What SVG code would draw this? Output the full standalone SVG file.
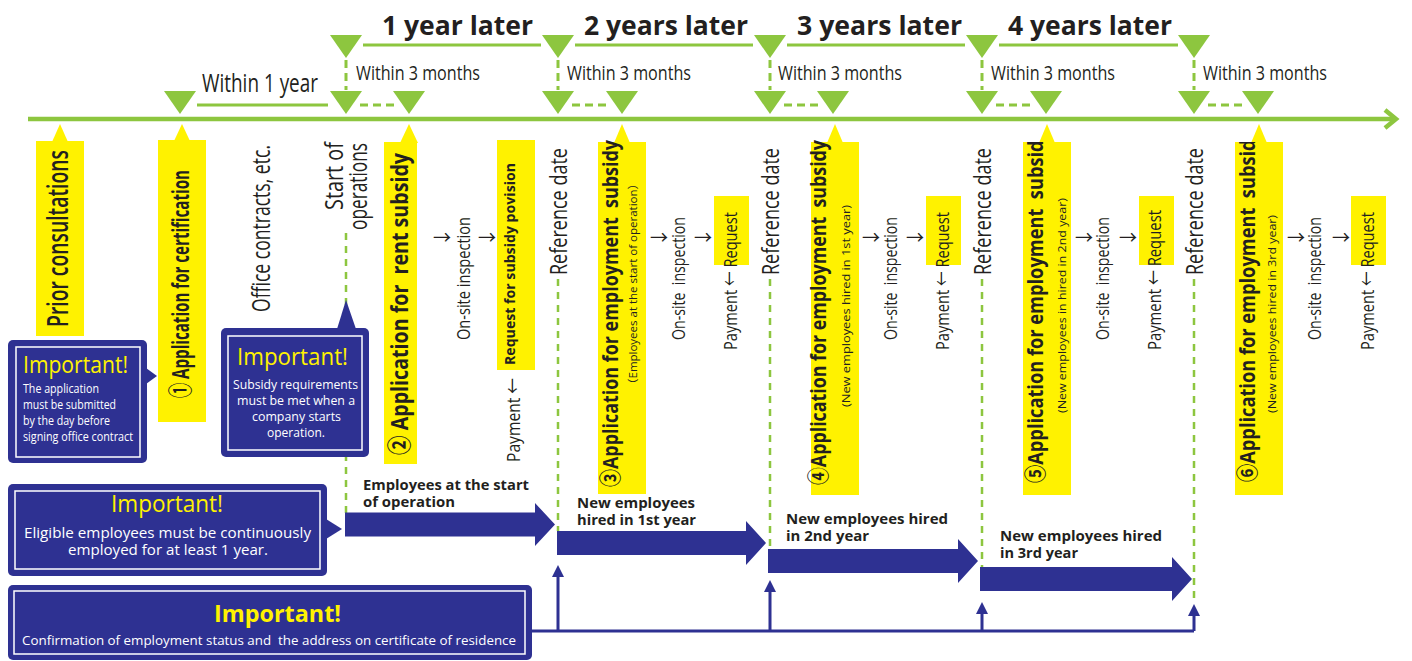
<svg xmlns="http://www.w3.org/2000/svg" width="1412" height="661" viewBox="0 0 1412 661">
<defs>
<style>
text{font-family:"Open Sans","Noto Sans","Noto Sans CJK JP","DejaVu Sans",sans-serif;fill:#231f20}
.g{fill:#8dc63f}
.gl{stroke:#8dc63f;stroke-width:3;fill:none}
.gd{stroke:#8dc63f;stroke-width:3;stroke-dasharray:8 5;fill:none}
.gv{stroke:#8dc63f;stroke-width:2.5;stroke-dasharray:7 6;fill:none}
.y{fill:#fff200}
.b{fill:#2e3192}
.bl{stroke:#2e3192;stroke-width:3;fill:none}
.inner{fill:none;stroke:#fff;stroke-width:1.5}
.hd{font-weight:700;font-size:27px}
.lt{font-size:19px}
.bd{font-weight:700}
.w{fill:#fff}
.imp{fill:#fff200;font-size:24px}
.arr{font-size:18px;text-anchor:middle}
.lab{font-weight:700;font-size:14.5px}
</style>
<clipPath id="c5"><rect x="1023" y="142" width="48" height="353"/></clipPath>
<clipPath id="c6"><rect x="1235" y="142" width="48" height="353"/></clipPath>
</defs>

<g id="timeline">
<line x1="28" y1="119" x2="1394" y2="119" stroke="#8dc63f" stroke-width="4.5"/>
<polyline points="1385,110 1396,119 1385,128" fill="none" stroke="#8dc63f" stroke-width="4.5"/>
<g class="g">
<polygon points="164,91 196,91 180,114"/>
<polygon points="330,91 362,91 346,114"/>
<polygon points="393,91 425,91 409,114"/>
<polygon points="542,91 574,91 558,114"/>
<polygon points="606,91 638,91 622,114"/>
<polygon points="754,91 786,91 770,114"/>
<polygon points="817,91 849,91 833,114"/>
<polygon points="966,91 998,91 982,114"/>
<polygon points="1030,91 1062,91 1046,114"/>
<polygon points="1178,91 1210,91 1194,114"/>
<polygon points="1242,91 1274,91 1258,114"/>
<polygon points="330,35 362,35 346,58"/>
<polygon points="542,35 574,35 558,58"/>
<polygon points="754,35 786,35 770,58"/>
<polygon points="966,35 998,35 982,58"/>
<polygon points="1178,35 1210,35 1194,58"/>
</g>
<path class="gl" d="M363 45H541M575 45H753M787 45H965M999 45H1178M197 105H328"/>
<path class="gd" d="M360 105H396M572 105H608M784 105H820M996 105H1032M1208 105H1244"/>
<path class="gd" d="M346 60V90M558 60V90M770 60V90M982 60V90M1194 60V90" stroke-dasharray="6 4"/>
</g>

<g id="period-labels">
<text class="hd" x="382" y="35" textLength="151" lengthAdjust="spacingAndGlyphs">1 year later</text>
<text class="hd" x="584" y="35" textLength="164" lengthAdjust="spacingAndGlyphs">2 years later</text>
<text class="hd" x="797" y="35" textLength="165" lengthAdjust="spacingAndGlyphs">3 years later</text>
<text class="hd" x="1008" y="35" textLength="164" lengthAdjust="spacingAndGlyphs">4 years later</text>
<text x="202" y="92" font-size="26" textLength="116" lengthAdjust="spacingAndGlyphs">Within 1 year</text>
<text x="356" y="80" font-size="20" textLength="124" lengthAdjust="spacingAndGlyphs">Within 3 months</text>
<text x="567" y="80" font-size="20" textLength="124" lengthAdjust="spacingAndGlyphs">Within 3 months</text>
<text x="778" y="80" font-size="20" textLength="124" lengthAdjust="spacingAndGlyphs">Within 3 months</text>
<text x="991" y="80" font-size="20" textLength="124" lengthAdjust="spacingAndGlyphs">Within 3 months</text>
<text x="1203" y="80" font-size="20" textLength="124" lengthAdjust="spacingAndGlyphs">Within 3 months</text>
</g>

<g id="connectors">
<path class="gv" d="M346 233V513M558 279V531M770 279V549M982 279V567M1194 279V604"/>
<path class="bl" d="M532 631H1194M558 631V574M770 631V589M982 631V611M1194 631V613"/>
<g class="b">
<polygon points="552,577 558,565 564,577"/>
<polygon points="764,592 770,580 776,592"/>
<polygon points="976,614 982,602 988,614"/>
<polygon points="1188,616 1194,604 1200,616"/>
<polygon points="345,512.5 535,512.5 535,503 555,524.5 535,546 535,536.5 345,536.5"/>
<polygon points="557,531 746,531 746,521 766,543 746,565 746,555 557,555"/>
<polygon points="768,549 958,549 958,539 978,561 958,583 958,573 768,573"/>
<polygon points="980,567 1172,567 1172,557 1192,579 1172,601 1172,591 980,591"/>
</g>
</g>

<g id="prior">
<rect class="y" x="36" y="141" width="48" height="195"/>
<polygon class="y" points="52,142 60,124 68,142"/>
<text transform="translate(68,327) rotate(-90)" font-size="28" font-weight="600" textLength="177" lengthAdjust="spacingAndGlyphs">Prior consultations</text>
</g>

<g id="cert">
<rect class="y" x="158" y="140" width="48" height="282"/>
<polygon class="y" points="174,141 182,124 190,141"/>
<text class="bd" transform="translate(189,398) rotate(-90)" font-size="24" textLength="228" lengthAdjust="spacingAndGlyphs">① Application for certification</text>
</g>

<g id="office">
<text transform="translate(270,312) rotate(-90)" font-size="25" textLength="167" lengthAdjust="spacingAndGlyphs">Office contracts, etc.</text>
</g>

<g id="start">
<text transform="translate(343,210) rotate(-90)" font-size="25" textLength="68" lengthAdjust="spacingAndGlyphs">Start of</text>
<text transform="translate(367,230) rotate(-90)" font-size="25" textLength="87" lengthAdjust="spacingAndGlyphs">operations</text>
</g>

<g id="note-application">
<rect class="b" x="8" y="340" width="139" height="123" rx="5"/>
<rect class="inner" x="16" y="347" width="124" height="110"/>
<polygon class="b" points="146,368 157,376 146,384"/>
<text class="imp" x="23" y="373" font-size="23" textLength="105" lengthAdjust="spacingAndGlyphs">Important!</text>
<text class="w" x="23" y="393" font-size="12.5" textLength="76" lengthAdjust="spacingAndGlyphs">The application</text>
<text class="w" x="23" y="409" font-size="12.5" textLength="93" lengthAdjust="spacingAndGlyphs">must be submitted</text>
<text class="w" x="23" y="425" font-size="12.5" textLength="87" lengthAdjust="spacingAndGlyphs">by the day before</text>
<text class="w" x="23" y="441" font-size="12.5" textLength="110" lengthAdjust="spacingAndGlyphs">signing office contract</text>
</g>

<g id="note-requirements">
<rect class="b" x="221" y="328" width="148" height="129" rx="5"/>
<rect class="inner" x="228" y="336" width="134" height="114"/>
<polygon class="b" points="337,329 346,300 356,329"/>
<text class="imp" x="237" y="365" textLength="111" lengthAdjust="spacingAndGlyphs">Important!</text>
<text class="w" x="233" y="389" font-size="13" textLength="125" lengthAdjust="spacingAndGlyphs">Subsidy requirements</text>
<text class="w" x="237" y="405" font-size="13" textLength="118" lengthAdjust="spacingAndGlyphs">must be met when a</text>
<text class="w" x="252" y="421" font-size="13" textLength="89" lengthAdjust="spacingAndGlyphs">company starts</text>
<text class="w" x="267" y="437" font-size="13" textLength="58" lengthAdjust="spacingAndGlyphs">operation.</text>
</g>

<g id="rent">
<rect class="y" x="384" y="142" width="33" height="322"/>
<polygon class="y" points="400,143 409,124 418,143"/>
<text class="bd" transform="translate(408,455) rotate(-90)" font-size="24" textLength="302" lengthAdjust="spacingAndGlyphs">② Application for&#160; rent subsidy</text>
<text class="arr" x="442" y="244">→</text>
<text class="lt" transform="translate(470,340) rotate(-90)" textLength="123" lengthAdjust="spacingAndGlyphs">On-site inspection</text>
<text class="arr" x="487" y="244">→</text>
<rect class="y" x="497" y="140" width="38" height="230"/>
<text class="bd" transform="translate(515,365) rotate(-90)" font-size="15" textLength="202" lengthAdjust="spacingAndGlyphs">Request for subsidy povision</text>
<text class="lt" transform="translate(520,462) rotate(-90)" textLength="84" lengthAdjust="spacingAndGlyphs">Payment ←</text>
</g>

<g id="refdates">
<text transform="translate(567,275) rotate(-90)" font-size="23" textLength="127" lengthAdjust="spacingAndGlyphs">Reference date</text>
<text transform="translate(779,275) rotate(-90)" font-size="23" textLength="127" lengthAdjust="spacingAndGlyphs">Reference date</text>
<text transform="translate(991,275) rotate(-90)" font-size="23" textLength="127" lengthAdjust="spacingAndGlyphs">Reference date</text>
<text transform="translate(1203,275) rotate(-90)" font-size="23" textLength="127" lengthAdjust="spacingAndGlyphs">Reference date</text>
</g>

<g id="emp3">
<rect class="y" x="598" y="142" width="48" height="352"/>
<polygon class="y" points="614,143 622,124 630,143"/>
<text class="bd" transform="translate(618,487) rotate(-90)" font-size="22" textLength="347" lengthAdjust="spacingAndGlyphs">③Application for employment&#160; subsidy</text>
<text transform="translate(637,390) rotate(-90)" font-size="11" textLength="212" lengthAdjust="spacingAndGlyphs">（Employees at the start of operation）</text>
<text class="arr" x="659" y="244">→</text>
<text class="lt" transform="translate(685,340) rotate(-90)" textLength="123" lengthAdjust="spacingAndGlyphs">On-site&#160; inspection</text>
<text class="arr" x="703" y="244">→</text>
<rect class="y" x="714" y="196" width="35" height="69"/>
<text class="lt" transform="translate(737,350) rotate(-90)" textLength="138" lengthAdjust="spacingAndGlyphs">Payment ← Request</text>
</g>

<g id="emp4">
<rect class="y" x="811" y="142" width="48" height="353"/>
<polygon class="y" points="827,143 835,124 843,143"/>
<text class="bd" transform="translate(826,485) rotate(-90)" font-size="22" textLength="345" lengthAdjust="spacingAndGlyphs">④Application for employment&#160; subsidy</text>
<text transform="translate(850,407) rotate(-90)" font-size="11" textLength="202" lengthAdjust="spacingAndGlyphs">(New employees hired in 1st year)</text>
<text class="arr" x="871" y="244">→</text>
<text class="lt" transform="translate(897,340) rotate(-90)" textLength="123" lengthAdjust="spacingAndGlyphs">On-site&#160; inspection</text>
<text class="arr" x="915" y="244">→</text>
<rect class="y" x="926" y="196" width="35" height="69"/>
<text class="lt" transform="translate(949,350) rotate(-90)" textLength="138" lengthAdjust="spacingAndGlyphs">Payment ← Request</text>
</g>

<g id="emp5">
<rect class="y" x="1023" y="142" width="48" height="353"/>
<polygon class="y" points="1039,143 1047,124 1055,143"/>
<g clip-path="url(#c5)">
<text class="bd" transform="translate(1043,483) rotate(-90)" font-size="22" textLength="353" lengthAdjust="spacingAndGlyphs">⑤Application for employment&#160; subsidy</text>
</g>
<text transform="translate(1066,413) rotate(-90)" font-size="11" textLength="215" lengthAdjust="spacingAndGlyphs">(New employees in hired in 2nd year)</text>
<text class="arr" x="1084" y="244">→</text>
<text class="lt" transform="translate(1109,340) rotate(-90)" textLength="123" lengthAdjust="spacingAndGlyphs">On-site&#160; inspection</text>
<text class="arr" x="1128" y="244">→</text>
<rect class="y" x="1139" y="196" width="35" height="69"/>
<text class="lt" transform="translate(1161,350) rotate(-90)" textLength="140" lengthAdjust="spacingAndGlyphs">Payment ← Request</text>
</g>

<g id="emp6">
<rect class="y" x="1235" y="142" width="48" height="353"/>
<polygon class="y" points="1251,143 1259,124 1267,143"/>
<g clip-path="url(#c6)">
<text class="bd" transform="translate(1255,482) rotate(-90)" font-size="22" textLength="353" lengthAdjust="spacingAndGlyphs">⑥Application for employment&#160; subsidy</text>
</g>
<text transform="translate(1276,413) rotate(-90)" font-size="11" textLength="198" lengthAdjust="spacingAndGlyphs">(New employees hired in 3rd year)</text>
<text class="arr" x="1296" y="244">→</text>
<text class="lt" transform="translate(1321,340) rotate(-90)" textLength="123" lengthAdjust="spacingAndGlyphs">On-site&#160; inspection</text>
<text class="arr" x="1341" y="244">→</text>
<rect class="y" x="1351" y="196" width="35" height="69"/>
<text class="lt" transform="translate(1374,350) rotate(-90)" textLength="138" lengthAdjust="spacingAndGlyphs">Payment ← Request</text>
</g>

<g id="note-eligible">
<rect class="b" x="8" y="484" width="319" height="92" rx="5"/>
<rect class="inner" x="15" y="491" width="305" height="78"/>
<polygon class="b" points="326,519 342,529 326,539"/>
<text class="imp" x="111" y="512" font-size="22" textLength="112" lengthAdjust="spacingAndGlyphs">Important!</text>
<text class="w" x="24" y="538" font-size="14.5" textLength="287" lengthAdjust="spacingAndGlyphs">Eligible employees must be continuously</text>
<text class="w" x="68" y="555" font-size="14.5" textLength="200" lengthAdjust="spacingAndGlyphs">employed for at least 1 year.</text>
</g>

<g id="note-confirmation">
<rect class="b" x="8" y="585" width="524" height="75" rx="5"/>
<rect class="inner" x="14" y="591" width="511" height="63"/>
<text class="imp" x="214" y="622" font-size="25" font-weight="700" textLength="127" lengthAdjust="spacingAndGlyphs">Important!</text>
<text class="w" x="22" y="645" font-size="13.5" textLength="494" lengthAdjust="spacingAndGlyphs">Confirmation of employment status and&#160; the address on certificate of residence</text>
</g>

<g id="arrow-labels">
<text class="lab" x="363" y="490" textLength="166" lengthAdjust="spacingAndGlyphs">Employees at the start</text>
<text class="lab" x="363" y="507" textLength="92" lengthAdjust="spacingAndGlyphs">of operation</text>
<text class="lab" x="577" y="508" textLength="118" lengthAdjust="spacingAndGlyphs">New employees</text>
<text class="lab" x="577" y="525" textLength="119" lengthAdjust="spacingAndGlyphs">hired in 1st year</text>
<text class="lab" x="786" y="524" textLength="162" lengthAdjust="spacingAndGlyphs">New employees hired</text>
<text class="lab" x="786" y="541" textLength="83" lengthAdjust="spacingAndGlyphs">in 2nd year</text>
<text class="lab" x="1000" y="541" textLength="162" lengthAdjust="spacingAndGlyphs">New employees hired</text>
<text class="lab" x="1000" y="558" textLength="78" lengthAdjust="spacingAndGlyphs">in 3rd year</text>
</g>
</svg>
